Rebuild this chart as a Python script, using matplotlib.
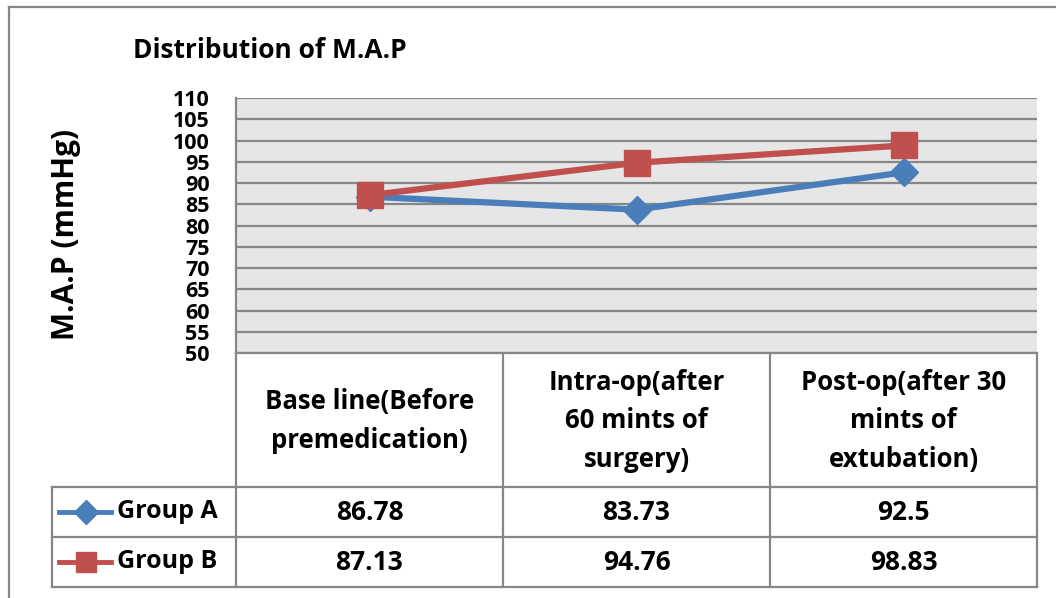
import matplotlib.pyplot as plt
from matplotlib.lines import Line2D

categories = ['Base line(Before\npremedication)',
              'Intra-op(after\n60 mints of\nsurgery)',
              'Post-op(after 30\nmints of\nextubation)']
group_a = [86.78, 83.73, 92.5]
group_b = [87.13, 94.76, 98.83]
series_names = ['Group A', 'Group B']
y_ticks = list(range(50, 111, 5))

blue = '#4a7ebb'
red = '#c0504d'
grid_c = '#878787'

plt.rcParams['font.family'] = ['Open Sans', 'DejaVu Sans']
plt.rcParams['font.weight'] = 'bold'

W, H = 1056, 598
fig = plt.figure(figsize=(W / 100, H / 100), dpi=100)

# overlay in pixel coordinates for frame, table and labels
ov = fig.add_axes([0, 0, 1, 1])
ov.set_xlim(0, W)
ov.set_ylim(H, 0)
ov.axis('off')

# outer chart frame (left and top edges visible)
ov.plot([9, 9], [7, H + 5], color=grid_c, lw=1.6)
ov.plot([9, W + 5], [7, 7], color=grid_c, lw=1.6)

# plot area
x0, x1, y_top, y_bot = 236, 1037, 98, 353
ax = fig.add_axes([x0 / W, 1 - y_bot / H, (x1 - x0) / W, (y_bot - y_top) / H])
ax.set_facecolor('#e6e6e6')
ax.set_xlim(-0.5, 2.5)
ax.set_ylim(50, 110)
ax.set_yticks(y_ticks)
ax.set_xticks([])
ax.tick_params(axis='y', length=0, pad=19, labelsize=15.5)
for lab in ax.get_yticklabels():
    lab.set_fontweight('bold')
ax.yaxis.grid(True, color=grid_c, lw=1.6)
ax.set_axisbelow(True)
for s in ['top', 'right']:
    ax.spines[s].set_visible(False)
ax.spines['left'].set_color(grid_c)
ax.spines['left'].set_linewidth(1.6)
ax.spines['bottom'].set_color(grid_c)
ax.spines['bottom'].set_linewidth(1.6)

xs = range(len(categories))
ax.plot(xs, group_a, color=blue, lw=4.5, marker='D', ms=14.5, zorder=3)
ax.plot(xs, group_b, color=red, lw=4.5, marker='s', ms=18.5, zorder=4)

# title and y label
fig.text(133 / W, 1 - 50 / H, 'Distribution of M.A.P', fontsize=19,
         fontweight='bold', ha='left', va='center')
fig.text(66 / W, 1 - 234 / H, 'M.A.P (mmHg)', fontsize=21.5,
         fontweight='bold', rotation=90, ha='center', va='center')

# data table
col_x = [236, 503, 770, 1037]
row_y = [353, 487, 537, 587]
lw = 1.6
for cx in col_x:
    ov.plot([cx, cx], [row_y[0], row_y[-1]], color=grid_c, lw=lw)
ov.plot([52, 52], [row_y[1], row_y[-1]], color=grid_c, lw=lw)
for ry in row_y[1:]:
    ov.plot([52, col_x[-1]], [ry, ry], color=grid_c, lw=lw)

for i, cat in enumerate(categories):
    cx = (col_x[i] + col_x[i + 1]) / 2
    ov.text(cx, 421, cat, ha='center', va='center', fontsize=18.5,
            fontweight='bold', linespacing=1.55)

rows = [group_a, group_b]
colors = [blue, red]
markers = ['D', 's']
msizes = [12.5, 14]
for r, vals in enumerate(rows):
    cy = (row_y[r + 1] + row_y[r + 2]) / 2
    for i, v in enumerate(vals):
        cx = (col_x[i] + col_x[i + 1]) / 2
        ov.text(cx, cy, str(v), ha='center', va='center', fontsize=19,
                fontweight='bold')
    # legend key
    ov.add_line(Line2D([59, 111], [cy, cy], color=colors[r], lw=3.5))
    ov.add_line(Line2D([86], [cy], color=colors[r], marker=markers[r],
                       ms=msizes[r], lw=0))
    ov.text(117, cy, series_names[r], ha='left', va='center', fontsize=18,
            fontweight='bold')

fig.savefig('out.png', dpi=100)
